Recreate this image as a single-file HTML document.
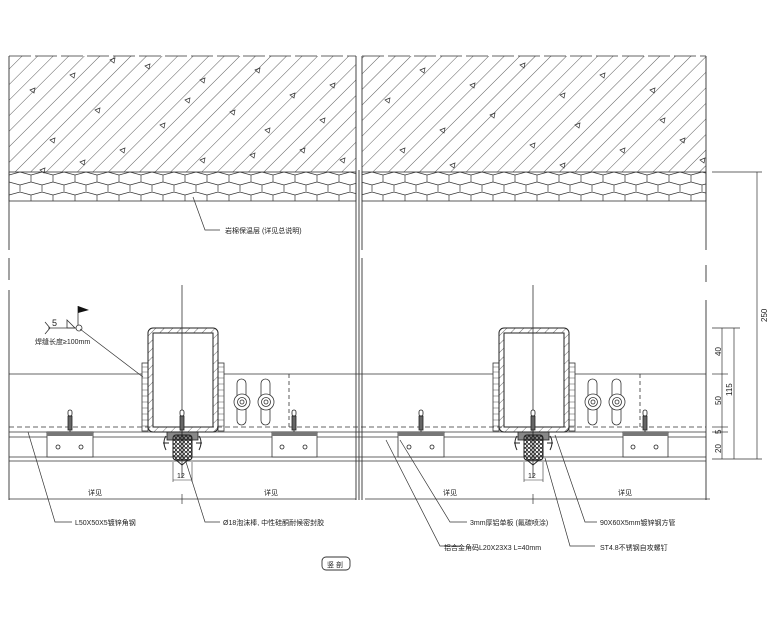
<!DOCTYPE html>
<html><head><meta charset="utf-8"><style>
html,body{margin:0;padding:0;background:#fff;}
svg{display:block;}
text{font-family:"Liberation Sans","Noto Sans CJK SC",sans-serif;fill:#222;}
</style></head><body>
<svg width="780" height="624" viewBox="0 0 780 624" xmlns="http://www.w3.org/2000/svg">
<defs>
<pattern id="hatch" patternUnits="userSpaceOnUse" width="11" height="11" patternTransform="rotate(45)">
<line x1="0" y1="0" x2="0" y2="11" stroke="#333" stroke-width="0.8"/>
</pattern>
<pattern id="hex" patternUnits="userSpaceOnUse" width="22" height="20" x="9" y="172">
<path d="M0,3 L11,0 L22,3 M0,3 V10 M22,3 V10 M0,10 L11,13 L22,10 M11,13 V20" fill="none" stroke="#333" stroke-width="0.7"/>
</pattern>
<pattern id="tubeh" patternUnits="userSpaceOnUse" width="6" height="6" patternTransform="rotate(45)">
<line x1="0" y1="0" x2="0" y2="6" stroke="#333" stroke-width="0.7"/>
</pattern>
<pattern id="foam" patternUnits="userSpaceOnUse" width="4" height="4">
<circle cx="2" cy="2" r="1.6" fill="none" stroke="#222" stroke-width="0.8"/>
</pattern>
<g id="tri"><path d="M0,0 L5,-2 L4,3 Z" fill="none" stroke="#333" stroke-width="0.7"/></g>
<g id="panel">
  <rect x="142" y="363" width="6" height="68" fill="none" stroke="#333" stroke-width="0.8"/>
  <rect x="218" y="363" width="6" height="68" fill="none" stroke="#333" stroke-width="0.8"/>
  <path d="M142,367h6M142,372h6M142,378h6M142,384h6M142,390h6M142,396h6M142,402h6M142,408h6M142,414h6M142,420h6M142,426h6M218,367h6M218,372h6M218,378h6M218,384h6M218,390h6M218,396h6M218,402h6M218,408h6M218,414h6M218,420h6M218,426h6" stroke="#555" stroke-width="0.6"/>
  <rect x="148" y="328" width="70" height="104" rx="5" fill="url(#tubeh)" stroke="#222" stroke-width="1"/>
  <rect x="153" y="333" width="60" height="94" fill="#fff" stroke="#222" stroke-width="1"/>
  <line x1="182" y1="285" x2="182" y2="478" stroke="#333" stroke-width="0.8"/>
  <rect x="167" y="432" width="31" height="8" fill="#888" stroke="#222" stroke-width="0.8"/>
  <rect x="173" y="435" width="19" height="25" rx="3" fill="url(#foam)" stroke="#222" stroke-width="1"/>
  <path d="M166,436 q-4,6 0,14 M199,436 q4,6 0,14" fill="none" stroke="#222" stroke-width="1"/>
  <line x1="163" y1="443" x2="169" y2="443" stroke="#222"/><line x1="196" y1="443" x2="202" y2="443" stroke="#222"/>
  <path d="M176,460 L182,465 L188,460" fill="none" stroke="#222"/>
  <g id="screw" stroke="#222" stroke-width="0.8" fill="#fff">
    <rect x="180" y="410" width="4" height="6" rx="2"/>
    <rect x="180" y="416" width="4" height="14" fill="#666"/>
    <line x1="182" y1="430" x2="182" y2="440"/>
  </g>
  <use href="#screw" x="-112"/>
  <use href="#screw" x="112"/>
  <rect x="47" y="432" width="46" height="25" fill="#fff" stroke="#333" stroke-width="0.8"/>
  <rect x="47" y="432" width="46" height="4" fill="#777"/>
  <rect x="272" y="432" width="45" height="25" fill="#fff" stroke="#333" stroke-width="0.8"/>
  <rect x="272" y="432" width="45" height="4" fill="#777"/>
  <g fill="#fff" stroke="#222" stroke-width="0.8">
    <circle cx="58" cy="447" r="2"/><circle cx="81" cy="447" r="2"/>
    <circle cx="282" cy="447" r="2"/><circle cx="305" cy="447" r="2"/>
  </g>
  <g fill="none" stroke="#333" stroke-width="0.8">
    <rect x="237" y="379" width="9" height="46" rx="4.5"/>
    <rect x="261" y="379" width="9" height="46" rx="4.5"/>
    <circle cx="242" cy="402" r="8" fill="#fff"/><circle cx="242" cy="402" r="4.5"/><circle cx="242" cy="402" r="2"/>
    <circle cx="266" cy="402" r="8" fill="#fff"/><circle cx="266" cy="402" r="4.5"/><circle cx="266" cy="402" r="2"/>
  </g>
  <line x1="289" y1="374" x2="289" y2="427" stroke="#333" stroke-width="0.8" stroke-dasharray="4,3"/>
  <line x1="173" y1="462" x2="173" y2="482" stroke="#333" stroke-width="0.6"/>
  <line x1="192" y1="462" x2="192" y2="482" stroke="#333" stroke-width="0.6"/>
  <line x1="173" y1="480" x2="192" y2="480" stroke="#333" stroke-width="0.6"/>
  <text x="177" y="478" font-size="7">12</text>
</g>
</defs>

<rect x="9" y="56" width="347" height="116" fill="url(#hatch)"/>
<rect x="362" y="56" width="344" height="116" fill="url(#hatch)"/>
<g>
<use href="#tri" x="30" y="90"/><use href="#tri" x="70" y="75"/><use href="#tri" x="110" y="60"/><use href="#tri" x="145" y="66"/><use href="#tri" x="200" y="80"/><use href="#tri" x="255" y="70"/><use href="#tri" x="290" y="95"/><use href="#tri" x="330" y="85"/><use href="#tri" x="50" y="140"/><use href="#tri" x="95" y="110"/><use href="#tri" x="120" y="150"/><use href="#tri" x="160" y="125"/><use href="#tri" x="185" y="100"/><use href="#tri" x="230" y="112"/><use href="#tri" x="265" y="130"/><use href="#tri" x="300" y="150"/><use href="#tri" x="320" y="120"/><use href="#tri" x="40" y="170"/><use href="#tri" x="200" y="160"/><use href="#tri" x="250" y="155"/><use href="#tri" x="340" y="160"/><use href="#tri" x="80" y="162"/>
<use href="#tri" x="385" y="100"/><use href="#tri" x="420" y="70"/><use href="#tri" x="470" y="85"/><use href="#tri" x="520" y="65"/><use href="#tri" x="560" y="95"/><use href="#tri" x="600" y="75"/><use href="#tri" x="650" y="90"/><use href="#tri" x="680" y="140"/><use href="#tri" x="400" y="150"/><use href="#tri" x="440" y="130"/><use href="#tri" x="490" y="115"/><use href="#tri" x="530" y="145"/><use href="#tri" x="575" y="125"/><use href="#tri" x="620" y="150"/><use href="#tri" x="660" y="120"/><use href="#tri" x="700" y="160"/><use href="#tri" x="450" y="165"/><use href="#tri" x="560" y="165"/>
</g>
<path d="M9,56 H356 M362,56 H706" stroke="#333" stroke-width="0.8" stroke-dasharray="22,4"/>
<rect x="9" y="172" width="347" height="29" fill="url(#hex)" stroke="#333" stroke-width="0.8"/>
<rect x="362" y="172" width="344" height="29" fill="url(#hex)" stroke="#333" stroke-width="0.8"/>

<g stroke="#333" stroke-width="0.9" fill="none">
<path d="M9,56 V250 M9,258 V280 M9,290 V500"/>
<path d="M356,56 V500 M359,170 V500"/>
<path d="M362,56 V250 M362,258 V500"/>
<path d="M706,56 V250 M706,265 V282 M706,300 V500"/>
</g>

<g stroke="#333" stroke-width="0.8">
<line x1="9" y1="374" x2="142" y2="374"/><line x1="224" y1="374" x2="362" y2="374"/>
<line x1="362" y1="374" x2="493" y2="374"/><line x1="575" y1="374" x2="706" y2="374"/>
<line x1="9" y1="427" x2="706" y2="427" stroke-dasharray="5,3"/>
<line x1="9" y1="432" x2="706" y2="432"/>
<line x1="9" y1="437" x2="706" y2="437"/>
<line x1="9" y1="457" x2="706" y2="457"/>
<line x1="9" y1="461" x2="706" y2="461"/>
</g>

<use href="#panel"/>
<use href="#panel" x="351"/>

<g stroke="#333" stroke-width="0.7">
<line x1="9" y1="499" x2="356" y2="499"/><line x1="365" y1="499" x2="710" y2="499"/>
<line x1="182" y1="494" x2="182" y2="504"/><line x1="533" y1="494" x2="533" y2="504"/>
</g>
<g font-size="7"><text x="88" y="495">详见</text><text x="264" y="495">详见</text><text x="443" y="495">详见</text><text x="618" y="495">详见</text></g>

<g stroke="#333" stroke-width="0.7">
<line x1="712" y1="172" x2="762" y2="172"/>
<line x1="712" y1="328" x2="740" y2="328"/>
<line x1="712" y1="374" x2="728" y2="374"/>
<line x1="712" y1="427" x2="728" y2="427"/>
<line x1="712" y1="432" x2="728" y2="432"/>
<line x1="712" y1="459" x2="762" y2="459"/>
<line x1="722" y1="328" x2="722" y2="459"/>
<line x1="734" y1="328" x2="734" y2="459"/>
<line x1="757" y1="172" x2="757" y2="459"/>
</g>
<g font-size="8">
<text transform="translate(721,356) rotate(-90)">40</text>
<text transform="translate(721,405) rotate(-90)">50</text>
<text transform="translate(721,434) rotate(-90)">5</text>
<text transform="translate(721,453) rotate(-90)">20</text>
<text transform="translate(732,396) rotate(-90)">115</text>
<text transform="translate(767,322) rotate(-90)">250</text>
</g>

<g stroke="#333" stroke-width="0.7" fill="none">
<path d="M193,197 L205,230 H220"/>
<path d="M80,329 L143,377"/>
<path d="M28,432 L55,522 H72"/>
<path d="M186,462 L205,522 H220"/>
<path d="M400,440 L450,522 H467"/>
<path d="M386,440 L440,546 H460"/>
<path d="M545,458 L570,546 H595"/>
<path d="M555,435 L585,522 H597"/>
</g>
<g font-size="7">
<text x="225" y="233">岩棉保温层 (详见总说明)</text>
<text x="75" y="525">L50X50X5镀锌角钢</text>
<text x="223" y="525">Ø18泡沫棒, 中性硅酮耐候密封胶</text>
<text x="470" y="525">3mm厚铝单板 (氟碳喷涂)</text>
<text x="600" y="525">90X60X5mm镀锌钢方管</text>
<text x="444" y="550">铝合金角码L20X23X3 L=40mm</text>
<text x="600" y="550">ST4.8不锈钢自攻螺钉</text>
</g>

<g stroke="#333" stroke-width="0.8" fill="none">
<path d="M45,322 L50,328 L45,334"/>
<line x1="48" y1="328" x2="76" y2="328"/>
<path d="M67,320 L75,328 L67,328 Z"/>
<circle cx="79" cy="328" r="3"/>
<line x1="78" y1="325" x2="78" y2="306"/>
</g>
<path d="M78,306 L89,310 L78,313 Z" fill="#111"/>
<text x="52" y="326" font-size="9">5</text>
<text x="35" y="344" font-size="7">焊缝长度≥100mm</text>

<rect x="322" y="557" width="28" height="13" rx="4" fill="none" stroke="#333" stroke-width="0.9"/>
<text x="327" y="567" font-size="7">竖 剖</text>
</svg>
</body></html>
